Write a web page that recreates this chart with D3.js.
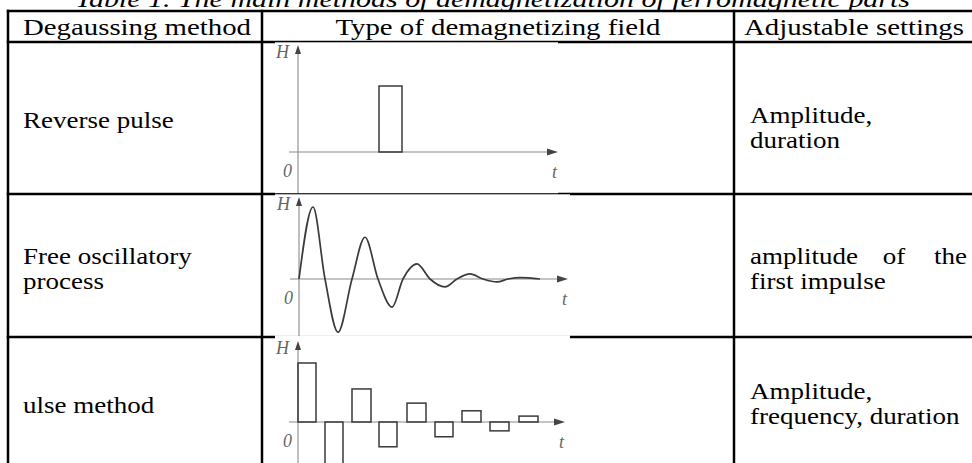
<!DOCTYPE html>
<html>
<head>
<meta charset="utf-8">
<script src="https://cdn.jsdelivr.net/npm/d3@7"></script>
<style>
  html, body { margin: 0; padding: 0; background: #fff; }
  svg { display: block; }
  text { font-family: "Liberation Serif", "Times New Roman", serif; fill: #000; }
</style>
</head>
<body>
<svg id="c" width="972" height="463"></svg>
<script>
// ---------- data ----------
const title = "Table 1. The main methods of demagnetization of ferromagnetic parts";
const headers = ["Degaussing method", "Type of demagnetizing field", "Adjustable settings"];
const methods = [["Reverse pulse"], ["Free oscillatory", "process"], ["ulse method"]];
const settings = [["Amplitude,", "duration"], ["amplitude of the", "first impulse"], ["Amplitude,", "frequency, duration"]];
const axisLabels = ["H", "0", "t"];

// chart 1: reverse pulse (t in arbitrary units, H relative)
const reverseStart = [81];
const reverseEnd = [104];
const reverseAmp = [1];

// chart 2: free oscillatory process (read at extrema and zero crossings)
const oscT = [0, 14, 26, 39, 53, 66, 79, 93, 104, 118, 131, 146, 158, 171, 184, 198, 209, 221, 241];
const oscH = [0, 1, 0, -0.74, 0, 0.58, 0, -0.39, 0, 0.21, 0, -0.11, 0, 0.07, 0, -0.04, 0, 0.02, 0];

// chart 3: pulse method
const pulseStart = [0, 27, 54, 81, 109, 137, 164, 192, 221];
const pulseEnd   = [18, 45, 73, 99, 128, 155, 183, 211, 240];
const pulseAmp   = [1, -0.85, 0.56, -0.42, 0.32, -0.25, 0.19, -0.15, 0.10];

// ---------- drawing ----------
const svg = d3.select("#c");
const W = 972, H = 463;

const colX = [8, 262, 734, 972];
const rowY = [11, 42, 194, 337, 463];

// title (clipped at top, as in the source)
svg.append("text")
  .attr("x", 75).attr("y", 7)
  .attr("textLength", 835).attr("lengthAdjust", "spacingAndGlyphs")
  .style("font-size", "24px").style("font-style", "italic")
  .text(title);

// table lines
const lines = svg.append("g").attr("stroke", "#000").attr("stroke-width", 2.5);
rowY.slice(0, 4).forEach(y => lines.append("line").attr("x1", colX[0] - 1.25).attr("x2", W).attr("y1", y).attr("y2", y));
colX.slice(0, 3).forEach(x => lines.append("line").attr("x1", x).attr("x2", x).attr("y1", rowY[0] - 1.25).attr("y2", H));

// image areas (cover parts of the row lines)
const boxes = [
  {x0: 275, x1: 558, y0: 42.3, y1: 193.2},
  {x0: 275, x1: 570, y0: 194.3, y1: 335.5},
  {x0: 275, x1: 570, y0: 335.5, y1: 463}
];
svg.append("g").selectAll("rect").data(boxes).join("rect")
  .attr("x", d => d.x0).attr("y", d => d.y0)
  .attr("width", d => d.x1 - d.x0).attr("height", d => d.y1 - d.y0)
  .attr("fill", "#fff");

// text helper (one <text> per cell) with horizontal stretch
function cell(items, size, sx) {
  const t = svg.append("text")
    .attr("transform", `scale(${sx},1)`)
    .style("font-size", size + "px");
  items.forEach(it => t.append("tspan")
    .attr("x", it.x / sx).attr("y", it.y)
    .attr("text-anchor", it.anchor || "start")
    .text(it.s));
}

// header
cell([{s: headers[0], x: (colX[0] + colX[1]) / 2 + 2, y: 35, anchor: "middle"}], 24, 1.2);
cell([{s: headers[1], x: (colX[1] + colX[2]) / 2, y: 35, anchor: "middle"}], 24, 1.2);
cell([{s: headers[2], x: (colX[2] + colX[3]) / 2 + 1, y: 35, anchor: "middle"}], 24, 1.2);

const FS = 22.5, SX = 1.2;
// first column
const bodyBase = [[128], [264.5, 289.5], [413]];
methods.forEach((lns, i) => cell(lns.map((s, j) => ({s, x: 23, y: bodyBase[i][j]})), FS, SX));

// last column
const setBase = [[123.5, 148.5], [264.5, 289.5], [399.5, 424.5]];
settings.forEach((lns, i) => {
  const items = [];
  lns.forEach((s, j) => {
    if (i === 1 && j === 0) {
      // justified line
      const w = s.split(" ");
      items.push({s: w[0], x: 750, y: setBase[i][j]});
      items.push({s: w[1], x: 894, y: setBase[i][j], anchor: "middle"});
      items.push({s: w[2], x: 967, y: setBase[i][j], anchor: "end"});
    } else {
      items.push({s, x: 750, y: setBase[i][j]});
    }
  });
  cell(items, FS, SX);
});

// ---------- charts ----------
const axisColor = "#8a8a8a";
const markColor = "#3a3a3a";

function frame(cfg) {
  const g = svg.append("g");
  const x = d3.scaleLinear().domain([0, cfg.tMax]).range([cfg.ox, cfg.ox + cfg.tMax]);
  const y = d3.scaleLinear().domain([-1, 1]).range([cfg.zy + cfg.amp, cfg.zy - cfg.amp]);
  // x axis
  g.append("line").attr("x1", cfg.ox - 9).attr("x2", cfg.xEnd - 8)
    .attr("y1", y(0)).attr("y2", y(0)).attr("stroke", axisColor).attr("stroke-width", 1.1);
  g.append("path").attr("d", `M${cfg.xEnd},${y(0)} L${cfg.xEnd - 11},${y(0) - 3.5} L${cfg.xEnd - 11},${y(0) + 3.5} Z`)
    .attr("fill", "#444");
  // y axis
  g.append("line").attr("x1", cfg.ox).attr("x2", cfg.ox)
    .attr("y1", cfg.yBottom).attr("y2", cfg.yTop + 6).attr("stroke", axisColor).attr("stroke-width", 1.1);
  g.append("path").attr("d", `M${cfg.ox},${cfg.yTop} L${cfg.ox - 3},${cfg.yTop + 9} L${cfg.ox + 3},${cfg.yTop + 9} Z`)
    .attr("fill", "#444");
  // labels
  const lab = (s, lx, ly) => g.append("text").attr("x", lx).attr("y", ly)
    .style("font-size", "18px").style("font-style", "italic").style("fill", "#666").text(s);
  lab(axisLabels[0], cfg.ox - 22, cfg.yTop + 13);
  lab(axisLabels[1], cfg.ox - 15, y(0) + 25);
  lab(axisLabels[2], cfg.xEnd - 6, y(0) + 26);
  return {g, x, y};
}

// chart 1
{
  const {g, x, y} = frame({ox: 298, zy: 152, amp: 66, tMax: 260, xEnd: 558, yTop: 45, yBottom: 193});
  g.selectAll("rect.p").data(reverseStart).join("rect")
    .attr("x", (d, i) => x(d)).attr("width", (d, i) => x(reverseEnd[i]) - x(d))
    .attr("y", (d, i) => y(reverseAmp[i])).attr("height", (d, i) => y(0) - y(reverseAmp[i]))
    .attr("fill", "none").attr("stroke", markColor).attr("stroke-width", 1.5);
}

// chart 2
{
  const {g, x, y} = frame({ox: 299, zy: 279, amp: 72, tMax: 269, xEnd: 568, yTop: 197, yBottom: 336});
  const line = d3.line().x(d => x(d[0])).y(d => y(d[1])).curve(d3.curveMonotoneX);
  g.append("path").datum(oscT.map((t, i) => [t, oscH[i]]))
    .attr("d", line).attr("fill", "none").attr("stroke", markColor).attr("stroke-width", 1.7);
}

// chart 3
{
  const {g, x, y} = frame({ox: 298, zy: 422, amp: 59, tMax: 267, xEnd: 565, yTop: 341, yBottom: 463});
  g.selectAll("rect.p").data(pulseStart).join("rect")
    .attr("x", (d, i) => x(d)).attr("width", (d, i) => x(pulseEnd[i]) - x(d))
    .attr("y", (d, i) => y(Math.max(0, pulseAmp[i])))
    .attr("height", (d, i) => Math.abs(y(pulseAmp[i]) - y(0)))
    .attr("fill", "none").attr("stroke", markColor).attr("stroke-width", 1.5);
}
</script>
</body>
</html>
